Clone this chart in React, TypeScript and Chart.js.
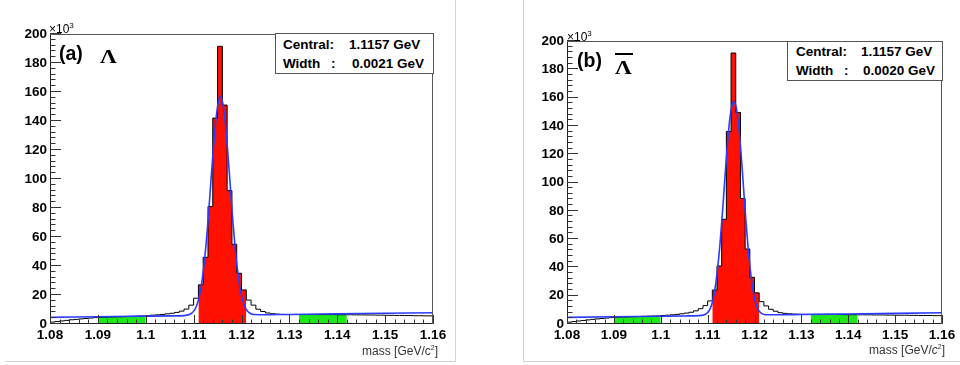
import React, { useEffect, useRef } from 'react';
import { Chart, registerables } from 'chart.js';
Chart.register(...registerables);

// ---------- data ----------
const BIN_START = 1.08;
const BIN_WIDTH = 0.001;

// panel (a) Lambda, 80 bins of 1 MeV from 1.080 to 1.160 (x10^3 entries)
const histA = [
  1.3, 1.7, 2.1, 2.5, 2.9, 3.2, 3.5, 3.8, 4.1, 4.4,
  4.6, 4.7, 4.8, 4.9, 5.0, 5.1, 5.2, 5.3, 5.4, 5.5,
  5.8, 6.1, 6.3, 6.6, 7.0, 7.4, 8.0, 8.9, 10.3, 13.0,
  17.8, 27, 46, 81, 142, 191.5, 151, 92, 55, 35,
  23.5, 16.5, 13.0, 10.2, 8.6, 7.6, 7.1, 6.8, 6.6, 6.5,
  6.5, 6.5, 6.5, 6.5, 6.5, 6.5, 6.5, 6.5, 6.5, 6.5,
  6.4, 6.4, 6.4, 6.3, 6.3, 6.3, 6.2, 6.2, 6.1, 6.1,
  6.0, 6.0, 5.9, 5.9, 5.8, 5.8, 5.7, 5.7, 5.6, 5.6,
];
// panel (b) anti-Lambda
const histB = [
  1.3, 1.7, 2.1, 2.5, 2.9, 3.3, 3.6, 3.9, 4.2, 4.5,
  4.8, 4.9, 5.0, 5.1, 5.2, 5.3, 5.4, 5.5, 5.6, 5.7,
  6.0, 6.2, 6.5, 6.8, 7.2, 7.7, 8.3, 9.3, 10.8, 13.0,
  16.3, 24, 41, 74, 136, 191.5, 149.5, 88.7, 53, 33,
  22, 15.8, 12.8, 10.4, 9.0, 8.0, 7.5, 7.2, 7.0, 6.9,
  6.8, 6.8, 6.8, 6.8, 6.8, 6.8, 6.7, 6.7, 6.7, 6.6,
  6.6, 6.6, 6.5, 6.5, 6.5, 6.4, 6.4, 6.4, 6.3, 6.3,
  6.2, 6.2, 6.2, 6.1, 6.1, 6.0, 6.0, 6.0, 5.9, 5.9,
];

// fit curves
const fitXA = [1.08, 1.09, 1.10, 1.105, 1.108,
  1.1086, 1.1091, 1.1096, 1.1101, 1.1106, 1.1111, 1.1116, 1.1121, 1.1126, 1.1131,
  1.1136, 1.1141, 1.1146, 1.1151, 1.1156, 1.1161, 1.1166, 1.1171, 1.1176, 1.1181,
  1.1186, 1.1191, 1.1196, 1.1201, 1.1206, 1.1211, 1.1216, 1.1221, 1.1226,
  1.124, 1.13, 1.14, 1.15, 1.16];
const fitYA = [4.6, 5.0, 5.4, 5.6, 5.8,
  6.1, 6.6, 7.5, 9.2, 12.4, 17.8, 26.3, 38.9, 55, 75,
  98, 120, 139, 152, 157, 152, 139, 120, 98, 75,
  55, 39, 26.5, 18, 12.7, 9.5, 7.8, 6.9, 6.5,
  6.4, 6.6, 7.0, 7.4, 7.8];
const fitXB = [1.08, 1.09, 1.10, 1.105, 1.108,
  1.1086, 1.1091, 1.1096, 1.1101, 1.1106, 1.1111, 1.1116, 1.1121, 1.1126, 1.1131,
  1.1136, 1.1141, 1.1146, 1.1151, 1.1156, 1.1161, 1.1166, 1.1171, 1.1176, 1.1181,
  1.1186, 1.1191, 1.1196, 1.1201, 1.1206, 1.1211, 1.1216, 1.1221, 1.1226,
  1.124, 1.13, 1.14, 1.15, 1.16];
const fitYB = [4.7, 5.1, 5.5, 5.7, 5.9,
  6.1, 6.4, 7.0, 8.4, 11.2, 16.5, 25.5, 38.5, 55, 76,
  99, 122, 141, 153, 157, 153, 141, 122, 99, 76,
  55, 38.5, 25.5, 16.8, 11.4, 8.6, 7.3, 6.7, 6.5,
  6.5, 6.7, 7.1, 7.5, 7.9];

// bin index ranges [from, to) of the shaded regions
const signalBins = [31, 41];
const sideBandLeftBins = [10, 20];
const sideBandRightBins = [52, 62];

const xTickValues = [1.08, 1.09, 1.1, 1.11, 1.12, 1.13, 1.14, 1.15, 1.16];
const xTickLabels = ['1.08', '1.09', '1.1', '1.11', '1.12', '1.13', '1.14', '1.15', '1.16'];
const yTickValues = [0, 20, 40, 60, 80, 100, 120, 140, 160, 180, 200];
const yTickLabels = ['0', '20', '40', '60', '80', '100', '120', '140', '160', '180', '200'];

// ---------- helpers ----------
const SANS = '"Liberation Sans", Arial, Helvetica, sans-serif';
const edge = (i: number) => +(BIN_START + i * BIN_WIDTH).toFixed(4);

// points at bin low edges + closing edge; drawn with stepped 'before'
// (horizontal at the previous point's value, then vertical)
function stepPoints(values: number[], from: number, to: number) {
  const pts: { x: number; y: number }[] = [];
  for (let i = from; i < to; i++) pts.push({ x: edge(i), y: values[i] });
  pts.push({ x: edge(to), y: values[to - 1] });
  return pts;
}

const framePlugin = {
  id: 'rootFrame',
  afterDatasetsDraw(chart: any) {
    const { ctx, chartArea, scales } = chart;
    const { left, right, top, bottom } = chartArea;
    const x = scales.x, y = scales.y;
    ctx.save();
    ctx.lineWidth = 1;
    ctx.strokeStyle = '#555';
    ctx.beginPath();
    ctx.moveTo(left + 0.5, top + 0.5);
    ctx.lineTo(right - 0.5, top + 0.5);
    ctx.lineTo(right - 0.5, bottom - 0.5);
    ctx.stroke();
    ctx.strokeStyle = '#222';
    ctx.beginPath();
    ctx.moveTo(left + 0.5, top + 0.5);
    ctx.lineTo(left + 0.5, bottom - 0.5);
    ctx.lineTo(right - 0.5, bottom - 0.5);
    ctx.stroke();
    ctx.strokeStyle = '#333';
    ctx.beginPath();
    for (let v = 0; v <= 200; v += 4) {
      const len = v % 20 === 0 ? 11 : 5.5;
      const py = Math.round(y.getPixelForValue(v)) - 0.5;
      ctx.moveTo(left, py);
      ctx.lineTo(left + len, py);
    }
    for (let k = 0; k <= 40; k++) {
      const v = 1.08 + k * 0.002;
      const len = k % 5 === 0 ? 9 : 4.5;
      const px = Math.round(x.getPixelForValue(v)) + 0.5;
      ctx.moveTo(px, bottom);
      ctx.lineTo(px, bottom - len);
    }
    ctx.stroke();
    ctx.restore();
  },
};

function makeConfig(hist: number[], fitX: number[], fitY: number[], yAxisWidth: number, padTop: number, padRight: number) {
  const fitPts = fitX.map((xv, i) => ({ x: xv, y: fitY[i] }));
  const base = { pointRadius: 0, stepped: 'before' as const, borderWidth: 1 };
  return {
    type: 'line' as const,
    data: {
      datasets: [
        { data: fitPts, borderColor: '#2a3cff', borderWidth: 1.6, pointRadius: 0, fill: false, cubicInterpolationMode: 'monotone' as const, order: 0 },
        { ...base, data: stepPoints(hist, 0, hist.length), borderColor: '#000', fill: false, order: 1 },
        { ...base, data: stepPoints(hist, signalBins[0], signalBins[1]), borderColor: 'rgba(0,0,0,0)', backgroundColor: '#ff1000', fill: 'origin', order: 2 },
        { ...base, data: stepPoints(hist, sideBandLeftBins[0], sideBandLeftBins[1]), borderColor: 'rgba(0,0,0,0)', backgroundColor: '#1ee81a', fill: 'origin', order: 2 },
        { ...base, data: stepPoints(hist, sideBandRightBins[0], sideBandRightBins[1]), borderColor: 'rgba(0,0,0,0)', backgroundColor: '#1ee81a', fill: 'origin', order: 2 },
      ],
    },
    options: {
      animation: false as const,
      responsive: false,
      maintainAspectRatio: false,
      layout: { padding: { top: padTop, right: padRight, left: 0, bottom: 0 } },
      plugins: { legend: { display: false }, tooltip: { enabled: false } },
      scales: {
        x: {
          type: 'linear' as const,
          min: 1.08, max: 1.16,
          afterBuildTicks: (s: any) => { s.ticks = xTickValues.map((v) => ({ value: v })); },
          afterFit: (s: any) => { s.height = 41; },
          grid: { display: false, drawTicks: false },
          border: { display: false },
          ticks: {
            autoSkip: false, maxRotation: 0, minRotation: 0, padding: 3, color: '#000',
            font: { family: SANS, size: 13.5, weight: 'bold' as const },
            callback: (_v: any, i: number) => xTickLabels[i],
          },
        },
        y: {
          type: 'linear' as const,
          min: 0, max: 200,
          afterBuildTicks: (s: any) => { s.ticks = yTickValues.map((v) => ({ value: v })); },
          afterFit: (s: any) => { s.width = yAxisWidth; },
          grid: { display: false, drawTicks: false },
          border: { display: false },
          ticks: {
            autoSkip: false, padding: 3, color: '#000',
            font: { family: SANS, size: 13.5, weight: 'bold' as const },
            callback: (_v: any, i: number) => yTickLabels[i],
          },
        },
      },
    },
    plugins: [framePlugin],
  };
}

function Panel({ left, hist, fitX, fitY, yAxisWidth, padTop, padRight }: any) {
  const ref = useRef<HTMLCanvasElement | null>(null);
  useEffect(() => {
    if (!ref.current) return;
    const chart = new Chart(ref.current, makeConfig(hist, fitX, fitY, yAxisWidth, padTop, padRight) as any);
    return () => chart.destroy();
  }, []);
  return (
    <canvas ref={ref} width={480} height={365}
      style={{ position: 'absolute', left, top: 0, width: 480, height: 365 }} />
  );
}

function T({ x, y, children, style }: any) {
  return (
    <div style={{ position: 'absolute', left: x, top: y, transform: 'translateY(-50%)', whiteSpace: 'nowrap', lineHeight: 1, fontFamily: SANS, color: '#000', ...style }}>
      {children}
    </div>
  );
}

const line = (s: any) => <div style={{ position: 'absolute', background: '#d4d4d4', ...s }} />;

export default function App() {
  const bold = { fontWeight: 'bold', fontSize: 13.5 };
  const lam = { fontSize: 18, fontWeight: 'bold', fontFamily: '"Liberation Serif", "Times New Roman", serif', transform: 'translateY(-50%) scaleX(1.3)', transformOrigin: 'left center' };
  return (
    <div style={{ position: 'fixed', left: 0, top: 0, width: 960, height: 365, background: '#fff', overflow: 'hidden' }}>
      <Panel left={0} hist={histA} fitX={fitXA} fitY={fitYA} yAxisWidth={50} padTop={34} padRight={47} />
      <Panel left={480} hist={histB} fitX={fitXB} fitY={fitYB} yAxisWidth={87} padTop={41} padRight={18} />

      {line({ left: 455, top: 0, width: 1, height: 362 })}
      {line({ left: 5, top: 361, width: 451, height: 1 })}
      {line({ left: 523, top: 0, width: 1, height: 362 })}
      {line({ left: 523, top: 361, width: 437, height: 1 })}

      {/* panel a annotations */}
      <T x={49} y={28} style={{ fontSize: 12 }}>×10<sup style={{ fontSize: 8, verticalAlign: 5 }}>3</sup></T>
      <T x={59} y={54} style={{ fontSize: 19.5, fontWeight: 'bold' }}>(a)</T>
      <T x={100} y={57} style={lam}>Λ</T>
      <div style={{ position: 'absolute', left: 275, top: 33, width: 157, height: 39, border: '1px solid #555', background: '#fff' }} />
      <T x={283} y={45} style={bold}>Central:</T>
      <T x={349} y={45} style={bold}>1.1157 GeV</T>
      <T x={283} y={64} style={bold}>Width</T>
      <T x={331} y={64} style={bold}>:</T>
      <T x={352} y={64} style={bold}>0.0021 GeV</T>
      <div style={{ position: 'absolute', right: 960 - 438, top: 350, transform: 'translateY(-50%)', fontFamily: SANS, fontSize: 12, color: '#333', whiteSpace: 'nowrap', lineHeight: 1 }}>
        mass [GeV/c<sup style={{ fontSize: 7, verticalAlign: 5 }}>2</sup>]
      </div>

      {/* panel b annotations */}
      <T x={567} y={36} style={{ fontSize: 12 }}>×10<sup style={{ fontSize: 8, verticalAlign: 5 }}>3</sup></T>
      <T x={577} y={61} style={{ fontSize: 19.5, fontWeight: 'bold' }}>(b)</T>
      <div style={{ position: 'absolute', left: 615, top: 53, width: 18, height: 2, background: '#000' }} />
      <T x={615} y={68} style={lam}>Λ</T>
      <div style={{ position: 'absolute', left: 787, top: 41, width: 154, height: 38, border: '1px solid #555', background: '#fff' }} />
      <T x={796} y={52} style={bold}>Central:</T>
      <T x={861} y={52} style={bold}>1.1157 GeV</T>
      <T x={796} y={71} style={bold}>Width</T>
      <T x={844} y={71} style={bold}>:</T>
      <T x={863} y={71} style={bold}>0.0020 GeV</T>
      <div style={{ position: 'absolute', right: 960 - 945, top: 349, transform: 'translateY(-50%)', fontFamily: SANS, fontSize: 12, color: '#333', whiteSpace: 'nowrap', lineHeight: 1 }}>
        mass [GeV/<i>c</i><sup style={{ fontSize: 7, verticalAlign: 5 }}>2</sup>]
      </div>
    </div>
  );
}
